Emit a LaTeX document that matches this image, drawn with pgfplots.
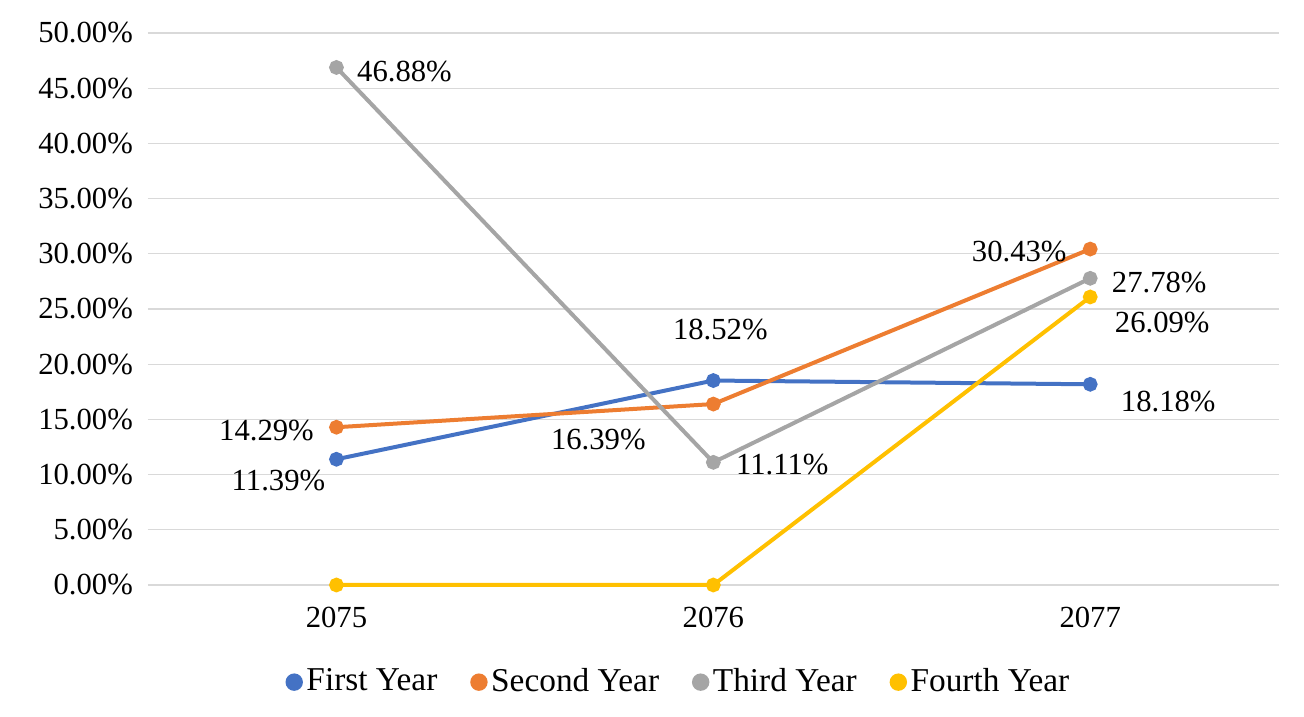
\documentclass[border=0pt]{standalone}
\usepackage{fontspec}
\setmainfont{Liberation Serif}
\usepackage{pgfplots}
\pgfplotsset{compat=1.18}
\definecolor{cBlue}{HTML}{4472C4}
\definecolor{cOrange}{HTML}{ED7D31}
\definecolor{cGray}{HTML}{A5A5A5}
\definecolor{cGold}{HTML}{FFC000}
\definecolor{cGrid}{HTML}{D9D9D9}
\begin{document}
\fontsize{23}{27}\selectfont
\begin{tikzpicture}
\path[use as bounding box] (-111pt,-99pt) rectangle (867pt,438.75pt);
\begin{axis}[
  name=ax,
  at={(0,0)}, anchor=south west,
  scale only axis,
  width=848pt, height=414pt,
  xmin=-0.5, xmax=2.5,
  ymin=0, ymax=50,
  xtick={0,1,2},
  xticklabels={2075,2076,2077},
  ytick={0,5,...,50},
  yticklabel={\pgfmathprintnumber[fixed,fixed zerofill,precision=2]{\tick}\%},
  /pgf/number format/assume math mode=true,
  ymajorgrids,
  grid style={cGrid, line width=1pt},
  axis line style={draw=none},
  major tick length=0pt,
  tick label style={font=\fontsize{23}{27}\selectfont},
  yticklabel style={xshift=-3.5pt},
  xticklabel style={yshift=-9pt},
  every axis plot/.append style={line width=3pt, mark=*, mark size=4pt},
  legend style={at={(0.469,-0.176)}, anchor=center, legend columns=4, draw=none,
    font=\fontsize{25}{29}\selectfont,
    /tikz/every even column/.append style={column sep=22pt}},
  legend image code/.code={
    \draw[line width=3pt] (0cm,0cm) -- (0.4cm,0cm);
    \draw[mark=*, mark size=5pt, mark options={solid}] plot coordinates {(0.2cm,0cm)};
  },
  clip=false,
]
\addplot[cBlue, mark options={fill=cBlue}] coordinates {(0,11.39) (1,18.52) (2,18.18)};
\addlegendentry{First Year}
\addplot[cOrange, mark options={fill=cOrange}] coordinates {(0,14.29) (1,16.39) (2,30.43)};
\addlegendentry{Second Year}
\addplot[cGray, mark options={fill=cGray}] coordinates {(0,46.88) (1,11.11) (2,27.78)};
\addlegendentry{Third Year}
\addplot[cGold, mark options={fill=cGold}] coordinates {(0,0) (1,0) (2,26.09)};
\addlegendentry{Fourth Year}

\node[xshift=51pt, yshift=-3pt] at (axis cs:0,46.88) {46.88\%};
\node[xshift=-52.5pt, yshift=-2.25pt] at (axis cs:0,14.29) {14.29\%};
\node[xshift=-43.5pt, yshift=-15.75pt] at (axis cs:0,11.39) {11.39\%};
\node[xshift=5.25pt, yshift=38.25pt] at (axis cs:1,18.52) {18.52\%};
\node[xshift=-86.25pt, yshift=-26.25pt] at (axis cs:1,16.39) {16.39\%};
\node[xshift=51.75pt, yshift=-1.5pt] at (axis cs:1,11.11) {11.11\%};
\node[xshift=-53.25pt, yshift=-1.5pt] at (axis cs:2,30.43) {30.43\%};
\node[xshift=51.75pt, yshift=-3pt] at (axis cs:2,27.78) {27.78\%};
\node[xshift=54pt, yshift=-19.5pt] at (axis cs:2,26.09) {26.09\%};
\node[xshift=58.5pt, yshift=-12.75pt] at (axis cs:2,18.18) {18.18\%};
\end{axis}
\end{tikzpicture}
\end{document}
